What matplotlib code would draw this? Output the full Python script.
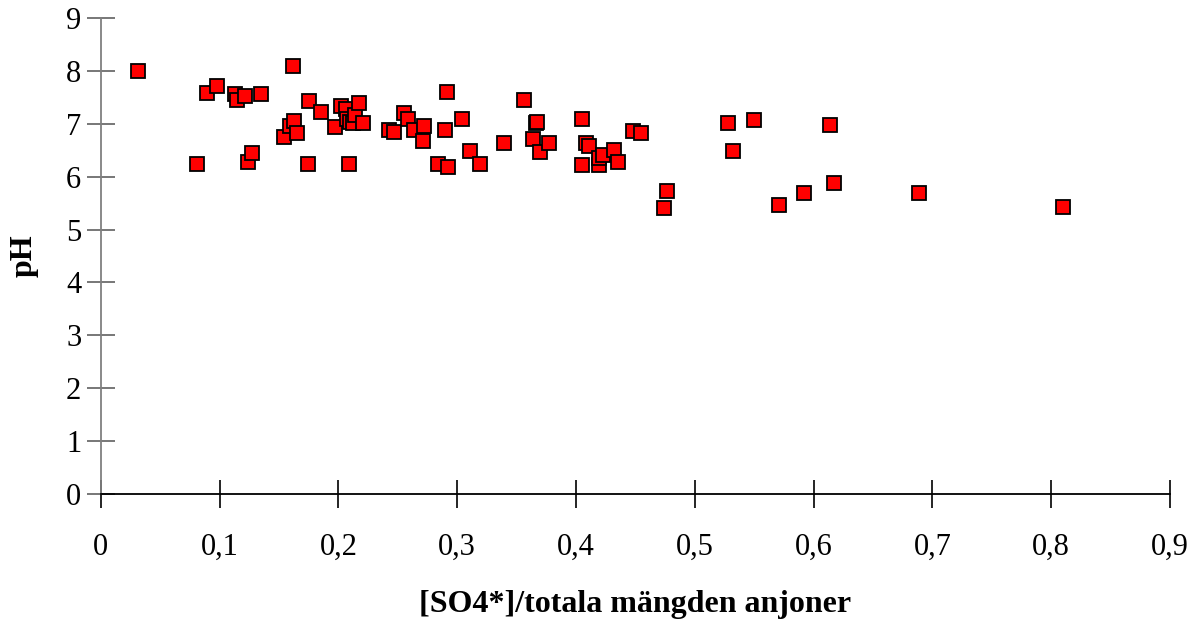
import matplotlib
matplotlib.use("Agg")
import matplotlib.pyplot as plt
from matplotlib.ticker import FuncFormatter

plt.rcParams["font.family"] = ["Liberation Serif", "DejaVu Serif"]

# sulfate share of total anions vs pH
so4_share = [
    0.031, 0.081, 0.089, 0.098, 0.113, 0.115, 0.121, 0.124, 0.127, 0.135,
    0.154, 0.159, 0.162, 0.163, 0.165, 0.174, 0.175, 0.185, 0.197, 0.202,
    0.206, 0.207, 0.209, 0.210, 0.212, 0.214, 0.217, 0.221, 0.243, 0.247,
    0.255, 0.259, 0.264, 0.271, 0.272, 0.284, 0.290, 0.291, 0.292, 0.304,
    0.311, 0.319, 0.339, 0.356, 0.364, 0.366, 0.367, 0.370, 0.377, 0.405,
    0.405, 0.408, 0.411, 0.419, 0.419, 0.423, 0.432, 0.435, 0.448, 0.455,
    0.474, 0.477, 0.528, 0.532, 0.550, 0.571, 0.592, 0.614, 0.617, 0.689,
    0.810,
]
ph = [
    8.00, 6.25, 7.59, 7.71, 7.56, 7.46, 7.53, 6.28, 6.44, 7.56,
    6.76, 6.96, 8.10, 7.05, 6.83, 6.25, 7.44, 7.22, 6.94, 7.34,
    7.28, 7.10, 6.25, 7.04, 7.01, 7.17, 7.40, 7.01, 6.88, 6.85,
    7.20, 7.10, 6.88, 6.67, 6.95, 6.25, 6.88, 7.61, 6.19, 7.10,
    6.49, 6.25, 6.64, 7.46, 6.71, 7.01, 7.04, 6.46, 6.64, 7.10,
    6.22, 6.64, 6.58, 6.22, 6.35, 6.41, 6.50, 6.28, 6.86, 6.83,
    5.41, 5.73, 7.01, 6.49, 7.07, 5.46, 5.70, 6.98, 5.89, 5.70,
    5.43,
]

x_ticks = [0, 0.1, 0.2, 0.3, 0.4, 0.5, 0.6, 0.7, 0.8, 0.9]
y_ticks = list(range(10))

fig = plt.figure(figsize=(12, 6.23), dpi=100)
ax = fig.add_axes([0.084, 0.207, 0.891, 0.764])

ax.plot(so4_share, ph, linestyle="none", marker="s", markersize=10,
        markerfacecolor="#ff0000", markeredgecolor="black", markeredgewidth=1.3)

ax.set_xlim(0, 0.9)
ax.set_ylim(0, 9)
ax.set_xticks(x_ticks)
ax.set_yticks(y_ticks)
ax.xaxis.set_major_formatter(FuncFormatter(lambda v, p: ("%g" % round(v, 1)).replace(".", ",")))

for side in ("top", "right"):
    ax.spines[side].set_visible(False)
ax.spines["left"].set_color("#808080")
ax.spines["left"].set_linewidth(1.3)
ax.spines["bottom"].set_color("black")
ax.spines["bottom"].set_linewidth(1.3)

ax.tick_params(axis="x", direction="inout", length=20, width=1.2, color="black",
               labelsize=22, pad=18)
ax.tick_params(axis="y", direction="inout", length=20, width=1.2, color="#606060",
               labelsize=22, pad=4)

ax.set_xlabel("[SO4*]/totala mängden anjoner", fontsize=23, fontweight="bold", labelpad=20)
ax.set_ylabel("pH", fontsize=23, fontweight="bold", labelpad=20)

fig.savefig("out.png", dpi=100)
